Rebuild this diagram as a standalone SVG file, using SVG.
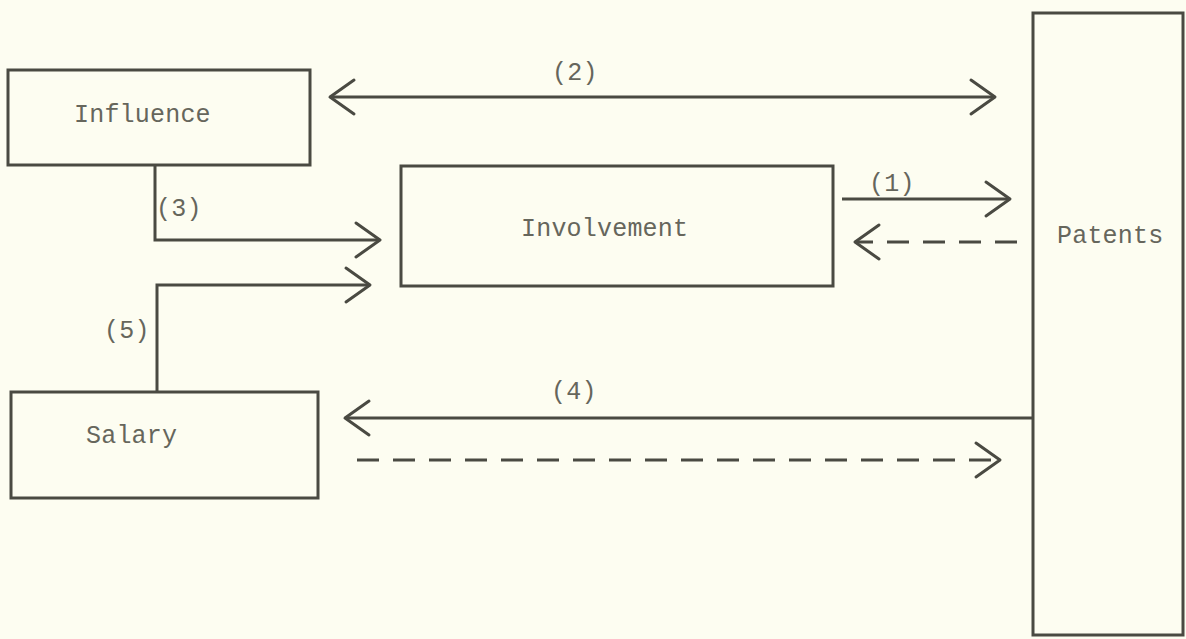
<svg xmlns="http://www.w3.org/2000/svg" width="1186" height="639" viewBox="0 0 1186 639">
  <style>
    .box { fill: none; stroke: #4a4a42; stroke-width: 3; }
    .line { fill: none; stroke: #4a4a42; stroke-width: 3; }
    .dash { stroke-dasharray: 22 14; }
    .lbl { font-family: "Liberation Mono", "DejaVu Sans Mono", monospace; font-size: 25px; letter-spacing: 0.2px; fill: #66665c; }
  </style>
  <defs>
    <marker id="head" markerUnits="userSpaceOnUse" markerWidth="40" markerHeight="44" refX="28" refY="20" orient="auto-start-reverse" viewBox="0 0 40 44">
      <path d="M4 3 L28 20 L4 37" fill="none" stroke="#4a4a42" stroke-width="3" stroke-linecap="round" stroke-linejoin="round"/>
    </marker>
  </defs>
  <rect width="1186" height="639" fill="#fdfdf1"/>

  <g id="influence">
    <rect class="box" x="8" y="70" width="302" height="95"/>
    <text class="lbl" x="74" y="122">Influence</text>
  </g>
  <g id="involvement">
    <rect class="box" x="401" y="166" width="432" height="120"/>
    <text class="lbl" x="521" y="236">Involvement</text>
  </g>
  <g id="salary">
    <rect class="box" x="11" y="392" width="307" height="106"/>
    <text class="lbl" x="86" y="443">Salary</text>
  </g>
  <g id="patents">
    <rect class="box" x="1033" y="13" width="150" height="622"/>
    <text class="lbl" x="1057" y="243">Patents</text>
  </g>

  <g id="connectors">
    <!-- (2) two-way link between Influence and Patents -->
    <path class="line" d="M330 97 L995 97" marker-start="url(#head)" marker-end="url(#head)"/>
    <text class="lbl" x="552" y="80">(2)</text>
    <!-- (1) Involvement to Patents, dashed feedback -->
    <path class="line" d="M842 199 L1010 199" marker-end="url(#head)"/>
    <text class="lbl" x="869" y="191">(1)</text>
    <path class="line dash" d="M1017 242 L855 242" marker-end="url(#head)"/>
    <!-- (3) Influence to Involvement -->
    <path class="line" d="M155 165 L155 240 L380 240" marker-end="url(#head)"/>
    <text class="lbl" x="156" y="216">(3)</text>
    <!-- (5) Salary to Involvement -->
    <path class="line" d="M157 392 L157 285 L370 285" marker-end="url(#head)"/>
    <text class="lbl" x="104" y="338">(5)</text>
    <!-- (4) Patents to Salary, dashed return -->
    <path class="line" d="M1033 418 L345 418" marker-end="url(#head)"/>
    <text class="lbl" x="551" y="399">(4)</text>
    <path class="line dash" d="M357 460 L1000 460" marker-end="url(#head)"/>
  </g>
</svg>
